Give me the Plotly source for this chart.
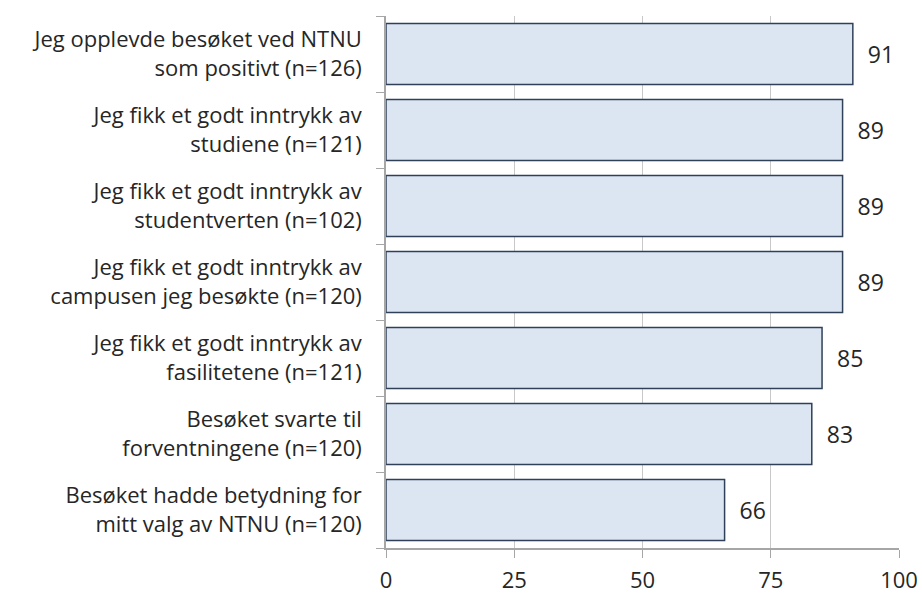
import plotly.graph_objects as go

labels = [
    "Jeg opplevde besøket ved NTNU<br>som positivt (n=126)",
    "Jeg fikk et godt inntrykk av<br>studiene (n=121)",
    "Jeg fikk et godt inntrykk av<br>studentverten (n=102)",
    "Jeg fikk et godt inntrykk av<br>campusen jeg besøkte (n=120)",
    "Jeg fikk et godt inntrykk av<br>fasilitetene (n=121)",
    "Besøket svarte til<br>forventningene (n=120)",
    "Besøket hadde betydning for<br>mitt valg av NTNU (n=120)",
]
values = [91, 89, 89, 89, 85, 83, 66]
x_ticks = [0, 25, 50, 75, 100]

font = "Open Sans, Calibri, sans-serif"
txt = "#262626"

fig = go.Figure(go.Bar(
    y=labels,
    x=values,
    orientation="h",
    width=0.8,
    marker=dict(color="#dce6f2", line=dict(color="#2f4058", width=1.5)),
    text=["  " + str(v) for v in values],
    textposition="outside",
    textfont=dict(family=font, size=23, color=txt),
    cliponaxis=False,
))

fig.update_layout(
    width=922, height=594,
    margin=dict(l=386, r=23, t=16, b=46),
    plot_bgcolor="white", paper_bgcolor="white",
    showlegend=False,
    bargap=0.2,
)

fig.update_xaxes(
    range=[0, 100], tickvals=x_ticks,
    showgrid=True, gridcolor="#c8c8c8", gridwidth=1,
    zeroline=False, automargin=False,
    showline=True, linecolor="#a6a6a6", linewidth=1.5,
    ticks="outside", ticklen=8, tickcolor="#a6a6a6",
    ticklabelstandoff=4,
    tickfont=dict(family=font, size=22, color=txt),
)
fig.update_yaxes(
    categoryorder="array", categoryarray=labels[::-1],
    showline=True, linecolor="#a6a6a6", linewidth=1.5,
    ticks="outside", ticklen=8, tickcolor="#a6a6a6",
    tickson="boundaries", automargin=False,
    ticklabelstandoff=18,
    tickfont=dict(family=font, size=22, color=txt),
    showgrid=False,
)

# drop the default 8px body margin so the figure fills the window
fig.write_html("out.html", config={"displayModeBar": False},
               post_script="document.body.style.margin='0';")
